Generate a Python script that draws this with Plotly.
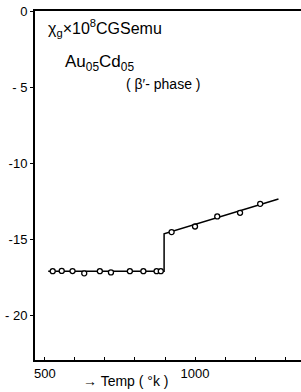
import plotly.graph_objects as go

# Data
temps_low = [526, 556, 592, 631, 683, 720, 783, 828, 872, 886]
chi_low = [-17.06, -17.04, -17.05, -17.2, -17.06, -17.14, -17.06, -17.06, -17.06, -17.06]
temps_high = [922, 1000, 1074, 1150, 1217]
chi_high = [-14.49, -14.12, -13.46, -13.22, -12.63]
fit_T = [511, 897, 897, 1278]
fit_chi = [-17.06, -17.06, -14.6, -12.31]

x_tickvals = [500, 1000]
x_ticktext = ["500", "1000"]
x_minor_step = 100
y_tickvals = [0, -5, -10, -15, -20]
y_ticktext = ["0", "- 5", "-10", "-15", "- 20"]

FONT = "Liberation Sans"

fig = go.Figure()
fig.add_trace(go.Scatter(x=fit_T, y=fit_chi, mode="lines",
                         line=dict(color="black", width=1.5), hoverinfo="skip"))
fig.add_trace(go.Scatter(x=temps_low + temps_high, y=chi_low + chi_high, mode="markers",
                         marker=dict(symbol="circle", size=5, color="white",
                                     line=dict(color="black", width=1.3))))

fig.update_layout(
    width=301, height=392,
    margin=dict(l=35, r=0, t=11, b=32),
    plot_bgcolor="white", paper_bgcolor="white",
    showlegend=False,
    font=dict(family=FONT, color="black", size=13),
    xaxis=dict(range=[467, 1353], showline=True, linecolor="black", linewidth=2,
               mirror=True, ticks="inside", ticklen=3, tickcolor="black",
               tickvals=x_tickvals, ticktext=x_ticktext, showgrid=False,
               minor=dict(ticks="inside", ticklen=3, tickcolor="black",
                          tick0=500, dtick=x_minor_step, showgrid=False),
               zeroline=False, tickfont=dict(size=13), automargin=False),
    yaxis=dict(range=[-22.9, 0.05], showline=True, linecolor="black", linewidth=2,
               ticks="outside", ticklen=3, tickcolor="black",
               tickvals=y_tickvals, ticktext=y_ticktext, showgrid=False,
               zeroline=False, tickfont=dict(size=13), automargin=False),
)

fig.add_annotation(x=503, y=-1.05, xanchor="left", yanchor="middle", showarrow=False,
                   text="χ<sub>g</sub>×10<sup>8</sup>CGSemu", font=dict(size=16))
fig.add_annotation(x=560, y=-3.4, xanchor="left", yanchor="middle", showarrow=False,
                   text="Au<sub>05</sub>Cd<sub>05</sub>", font=dict(size=17))
fig.add_annotation(x=762, y=-4.75, xanchor="left", yanchor="middle", showarrow=False,
                   text="( β′- phase )", font=dict(size=14))
fig.add_annotation(x=767, xref="x", y=-0.06, yref="paper", xanchor="center",
                   yanchor="middle", showarrow=False,
                   text="→ Temp ( °k )", font=dict(size=14))

fig.write_html("out.html", config={"displayModeBar": False},
               post_script="document.body.style.margin='0';")
